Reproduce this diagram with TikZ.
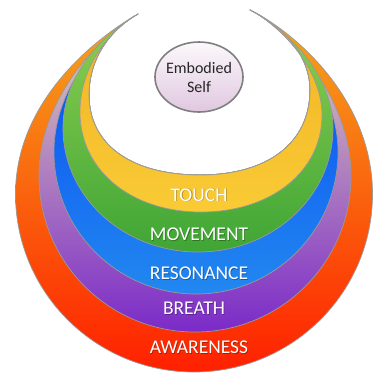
\documentclass[tikz,border=0pt]{standalone}
\usepackage{fontspec}
\setmainfont{Carlito}
\usetikzlibrary{shapes.geometric}
\definecolor{edgegray}{HTML}{9A9A9A}
\definecolor{awTop}{HTML}{F5A81C}
\definecolor{awMid}{HTML}{F5821C}
\definecolor{awBot}{HTML}{FF2000}
\definecolor{brTop}{HTML}{E3D6B6}
\definecolor{brMid}{HTML}{C09CC0}
\definecolor{brBot}{HTML}{7B2AC8}
\definecolor{reTop}{HTML}{0646F2}
\definecolor{reMid}{HTML}{0F60F2}
\definecolor{reBot}{HTML}{2288F0}
\definecolor{moTop}{HTML}{8FD052}
\definecolor{moBot}{HTML}{3FA535}
\definecolor{toTop}{HTML}{F2B124}
\definecolor{toBot}{HTML}{F9CB35}
\definecolor{elTop}{HTML}{FCF8FC}
\definecolor{elBot}{HTML}{E0C8E0}
\definecolor{elEdge}{HTML}{7F7F7F}
\definecolor{selftext}{HTML}{262626}
\begin{document}
\begin{tikzpicture}[x=1pt,y=-1pt,
  layer/.style={draw=edgegray,line width=0.7pt,line join=round},
  lbl/.style={font=\fontsize{19.5}{20}\selectfont,text=white,inner sep=0pt},
  lblshadow/.style={font=\fontsize{19.5}{20}\selectfont,text=black,opacity=0.3,inner sep=0pt}]
\useasboundingbox (0,0) rectangle (374,373);
\fill[white] (0,0) rectangle (374,373);
\def\Bzero{(138,14) .. controls (99,36) and (15.5,99) .. (15.5,194) .. controls (15.5,292.2) and (95.4,372) .. (194,372) .. controls (292.6,372) and (372.5,292.2) .. (372.5,194) .. controls (372.5,99) and (295,32) .. (250,10)}
\def\Bone{(138,14) .. controls (103,33.6) and (39,96) .. (39,176) .. controls (39,262.2) and (108.8,332) .. (195,332) .. controls (281.2,332) and (351,262.2) .. (351,176) .. controls (351,96) and (286,27.6) .. (250,10)}
\def\Btwo{(138,14) .. controls (106.7,31.6) and (54,84) .. (54,152) .. controls (54,230.4) and (117.6,294) .. (196,294) .. controls (274.4,294) and (338,230.4) .. (338,152) .. controls (338,84) and (282.4,25.8) .. (250,10)}
\def\Bthree{(138,14) .. controls (109.3,30.2) and (63,70) .. (63,128) .. controls (63,196.5) and (123.4,252) .. (198,252) .. controls (272.6,252) and (333,196.5) .. (333,128) .. controls (333,70) and (279.7,24.5) .. (250,10)}
\def\Bfour{(138,14) .. controls (111.9,28.7) and (80,64) .. (80,112) .. controls (80,170) and (130.8,212) .. (201,212) .. controls (271.2,212) and (322,171.3) .. (322,115) .. controls (322,67) and (277,23.2) .. (250,10)}
\def\Bfiverev{.. controls (275.2,22.3) and (310,50) .. (310,90) .. controls (310,142.7) and (268.2,175) .. (200,175) .. controls (131.2,175) and (89,144.6) .. (89,95) .. controls (89,55) and (113.6,27.7) .. (138,14) -- cycle}
\path[layer,top color=awTop,middle color=awMid,bottom color=awBot] \Bzero \Bfiverev;
\path[layer,top color=brTop,middle color=brMid,bottom color=brBot] \Bone \Bfiverev;
\path[layer,top color=reTop,middle color=reMid,bottom color=reBot] \Btwo \Bfiverev;
\path[layer,top color=moTop,bottom color=moBot] \Bthree \Bfiverev;
\path[layer,top color=toTop,bottom color=toBot] \Bfour \Bfiverev;
\node[ellipse,draw=elEdge,line width=1.6pt,top color=elTop,bottom color=elBot,
  minimum width=88pt,minimum height=70pt,inner sep=0pt] (self) at (199,77) {};
\node[font=\fontsize{16}{18.4}\selectfont,text=selftext,align=center,inner sep=0pt] (selftxt) at (199,77.5) {Embodied\\Self};
\node[lblshadow] (touchS) at (199.8,195.6) {TOUCH};
\node[lbl] (touch) at (199,194.8) {TOUCH};
\node[lblshadow] (moveS) at (199.8,235.1) {MOVEMENT};
\node[lbl] (move) at (199,234.3) {MOVEMENT};
\node[lblshadow] (resS) at (199.8,274.5) {RESONANCE};
\node[lbl] (res) at (199,273.7) {RESONANCE};
\node[lblshadow] (breS) at (194.8,308.8) {BREATH};
\node[lbl] (bre) at (194,308) {BREATH};
\node[lblshadow] (awaS) at (199.8,347.8) {AWARENESS};
\node[lbl] (awa) at (199,347) {AWARENESS};
\end{tikzpicture}
\end{document}
